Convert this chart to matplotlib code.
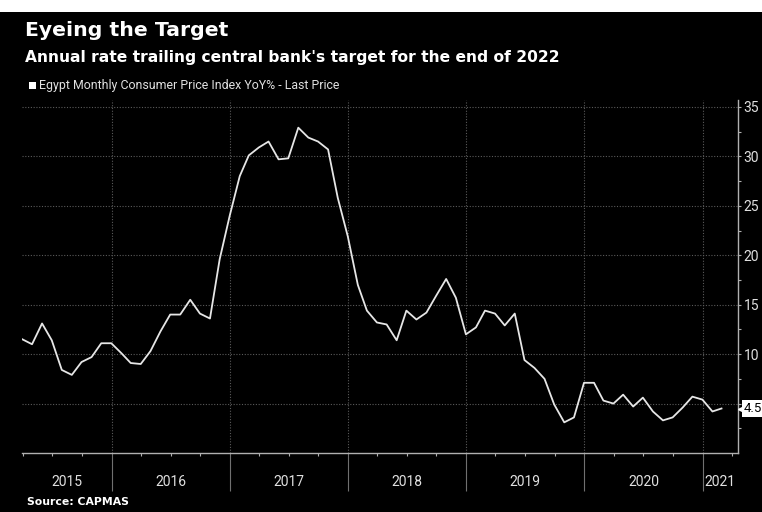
import matplotlib
matplotlib.use("Agg")
import matplotlib.pyplot as plt
import matplotlib.dates as mdates
import matplotlib.transforms as mtransforms
from matplotlib.patches import Rectangle
import pandas as pd

# Egypt monthly CPI YoY %, month-end values
cpi_2015 = [11.5, 11.0, 13.1, 11.4, 8.4, 7.9, 9.2, 9.7, 11.1, 11.1]  # Mar-Dec
cpi_2016 = [10.1, 9.1, 9.0, 10.3, 12.3, 14.0, 14.0, 15.5, 14.1, 13.6, 19.6, 24.0]
cpi_2017 = [28.0, 30.1, 30.9, 31.5, 29.7, 29.8, 32.9, 31.9, 31.5, 30.7, 25.8, 21.9]
cpi_2018 = [17.0, 14.4, 13.2, 13.0, 11.4, 14.4, 13.5, 14.2, 15.9, 17.6, 15.7, 12.0]
cpi_2019 = [12.7, 14.4, 14.1, 12.9, 14.1, 9.4, 8.6, 7.5, 4.9, 3.1, 3.6, 7.1]
cpi_2020 = [7.1, 5.3, 5.0, 5.9, 4.7, 5.6, 4.2, 3.3, 3.6, 4.6, 5.7, 5.4]
cpi_2021 = [4.2, 4.5]  # Jan-Feb

cpi = cpi_2015 + cpi_2016 + cpi_2017 + cpi_2018 + cpi_2019 + cpi_2020 + cpi_2021
dates = pd.date_range("2015-03-31", periods=len(cpi), freq="ME")

year_labels = ["2015", "2016", "2017", "2018", "2019", "2020", "2021"]
y_ticks = [5, 10, 15, 20, 25, 30, 35]
# the "5" label is hidden behind the last-value tag in the original
y_tick_labels = ["", "10", "15", "20", "25", "30", "35"]

narrow = "Roboto"
bold = "DejaVu Sans"

fig = plt.figure(figsize=(7.62, 5.12), dpi=100, facecolor="black")
fig.patches.append(Rectangle((0, 1 - 12 / 512), 1, 12 / 512, transform=fig.transFigure,
                             facecolor="white", edgecolor="none", zorder=0))

ax = fig.add_axes([22 / 762, 1 - 453 / 512, 716 / 762, 353 / 512], facecolor="black")
ax.plot(dates, cpi, color="#e6e6e6", linewidth=1.3, zorder=3)

x_left = pd.Timestamp("2015-03-30")
x_right = pd.Timestamp("2021-04-20")
ax.set_xlim(x_left, x_right)
ax.set_ylim(0, 35.7)

# spines
for side in ["top", "left"]:
    ax.spines[side].set_visible(False)
for side in ["right", "bottom"]:
    ax.spines[side].set_color("#b0b0b0")
    ax.spines[side].set_linewidth(1.0)

# y axis on the right
ax.yaxis.tick_right()
ax.set_yticks(y_ticks)
ax.set_yticklabels(y_tick_labels)
ax.set_yticks([2.5, 7.5, 12.5, 17.5, 22.5, 27.5, 32.5], minor=True)
ax.tick_params(axis="y", which="both", direction="out", length=2.5, width=0.8,
               color="#b0b0b0", labelcolor="#e0e0e0", labelsize=10, pad=1.5)
for lab in ax.get_yticklabels():
    lab.set_family(narrow)

# x axis: year separators + quarterly ticks
ax.xaxis.set_major_locator(mdates.YearLocator())
ax.xaxis.set_minor_locator(mdates.MonthLocator(bymonth=[1, 4, 7, 10]))
ax.tick_params(axis="x", which="major", direction="out", length=27, width=0.8,
               color="#707070", labelbottom=False)
ax.tick_params(axis="x", which="minor", direction="out", length=2.5, width=0.8,
               color="#b0b0b0")

ax.grid(True, which="major", color="#5a5a5a", linestyle=(0, (1, 1.5)), linewidth=0.8)

# year labels centred in their visible span
edges = [x_left] + [pd.Timestamp(f"{y}-01-01") for y in range(2016, 2022)] + [x_right]
for i, lab in enumerate(year_labels):
    mid = edges[i] + (edges[i + 1] - edges[i]) / 2
    ax.text(mid, -0.082, lab, transform=ax.get_xaxis_transform(), ha="center", va="center",
            color="#e0e0e0", fontsize=10, family=narrow)

# last value tag
last_val = cpi[-1]
tri_tr = mtransforms.offset_copy(ax.get_yaxis_transform(), fig=fig, x=3.5, y=0, units="dots")
ax.plot([1.0], [last_val], marker="<", markersize=5.5, color="white", transform=tri_tr,
        clip_on=False, zorder=5)
ax.annotate(f"{last_val:.1f}", xy=(1.0, last_val), xycoords=ax.get_yaxis_transform(),
            xytext=(4.3, 0), textcoords="offset points", ha="left", va="center",
            fontsize=9.5, family=narrow, color="black", annotation_clip=False, zorder=6,
            bbox=dict(boxstyle="square,pad=0.15", facecolor="white", edgecolor="none"))

# titles
fig.text(25 / 762, 1 - 36 / 512, "Eyeing the Target", color="white", fontsize=14.7,
         fontweight="bold", family=bold, va="baseline")
fig.text(25 / 762, 1 - 62 / 512, "Annual rate trailing central bank's target for the end of 2022",
         color="white", fontsize=11.2, fontweight="bold", family=bold, va="baseline")

# legend
fig.patches.append(Rectangle((29 / 762, 1 - 89 / 512), 7 / 762, 7 / 512, transform=fig.transFigure,
                             facecolor="white", edgecolor="none"))
fig.text(39 / 762, 1 - 86 / 512, "Egypt Monthly Consumer Price Index YoY% - Last Price",
         color="#e0e0e0", fontsize=8.9, family=narrow, va="center")

fig.text(27 / 762, 1 - 505 / 512, "Source: CAPMAS", color="white", fontsize=7.8,
         fontweight="bold", family=bold, va="baseline")

fig.savefig("out.png", dpi=100, facecolor="black")
